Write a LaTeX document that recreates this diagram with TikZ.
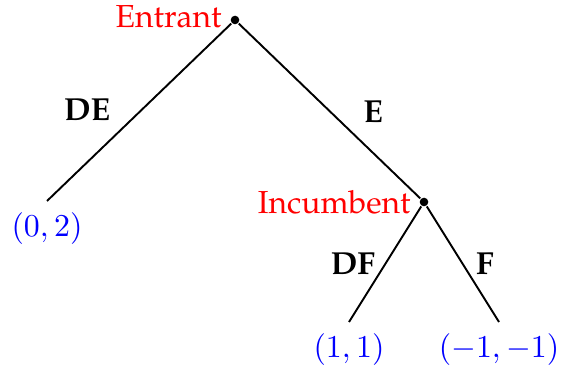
\documentclass[tikz,border=0pt]{standalone}
\usepackage[T1]{fontenc}
\usepackage{palatino}
\begin{document}
\begin{tikzpicture}[x=0.314pt,y=-0.314pt,font=\normalsize,line width=0.6pt]
\tikzset{
  dot/.style={circle,fill,inner sep=0pt,minimum size=2.7pt},
  player/.style={text=red,inner sep=2.3pt},
  payoff/.style={text=blue},
  move/.style={font=\bfseries}
}
\useasboundingbox (0,0) rectangle (561,370);
% decision nodes
\node[dot] (entrant) at (235,20) {};
\node[dot] (incumbent) at (424,202) {};
\node[player,anchor=east] (entrantlbl) at ([yshift=1pt]entrant.west) {Entrant};
\node[player,anchor=east] (incumbentlbl) at (incumbent.west) {Incumbent};
% end points
\coordinate (stayout) at (47,201);
\coordinate (accom) at (349,322);
\coordinate (fight) at (499,322);
\draw (entrant) -- (stayout);
\draw (entrant) -- (incumbent);
\draw (incumbent) -- (accom);
\draw (incumbent) -- (fight);
% moves
\node[move] (de) at (87,110) {DE};
\node[move] (e) at (373,112) {E};
\node[move] (df) at (353,264) {DF};
\node[move] (f) at (485,264) {F};
% payoffs
\node[payoff,below] (pay1) at (stayout) {$(0,2)$};
\node[payoff,below] (pay2) at (accom) {$(1,1)$};
\node[payoff,below] (pay3) at (fight) {$(-1,-1)$};
\end{tikzpicture}
\end{document}
